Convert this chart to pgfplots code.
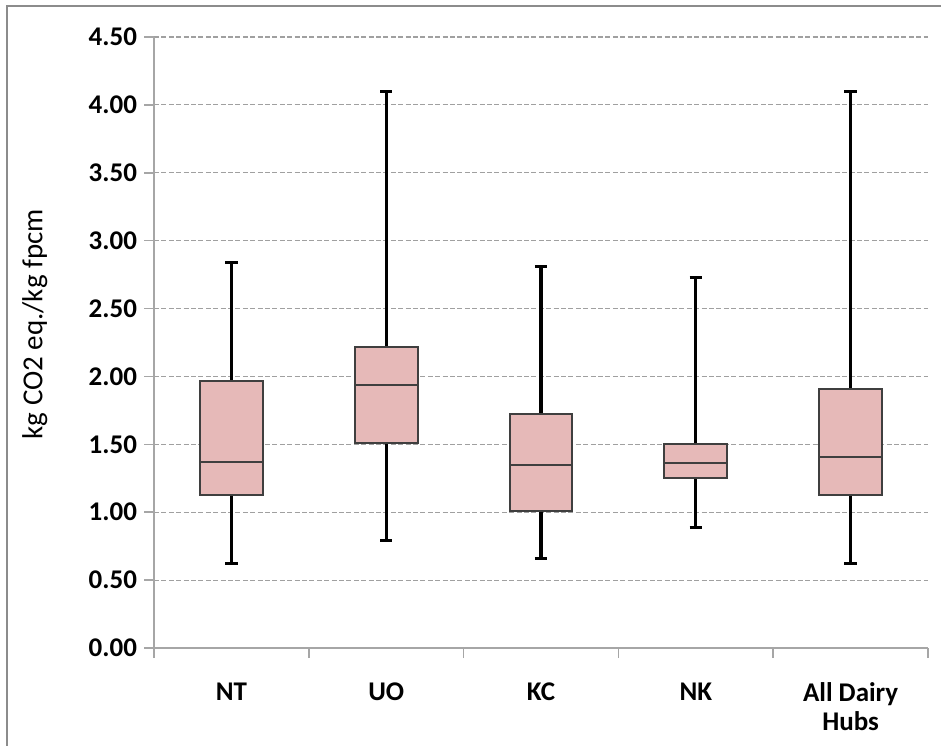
\documentclass[border=0pt]{standalone}
\usepackage{pgfplots}
\pgfplotsset{compat=1.18}
\usepgfplotslibrary{statistics}
\usepackage{fontspec}
\setmainfont{Carlito}
\definecolor{boxfill}{HTML}{E6B9B8}
\definecolor{boxedge}{HTML}{3F3F3F}
\definecolor{axisgray}{HTML}{A6A6A6}
\definecolor{gridgray}{HTML}{A0A0A0}
\definecolor{framegray}{HTML}{8C8C8C}
\begin{document}
\begin{tikzpicture}
\path[use as bounding box] (0,0) rectangle (470.5bp,-373bp);
\draw[framegray, line width=1.2bp] (3.5bp,-373bp) -- (3.5bp,-3bp) -- (470.5bp,-3bp);
\begin{axis}[
  at={(77bp,-324bp)}, anchor=south west,
  scale only axis, width=387bp, height=305.5bp,
  xmin=-0.5, xmax=4.5, ymin=0, ymax=4.5,
  axis x line*=bottom, axis y line*=left,
  axis line style={draw=axisgray, line width=0.8bp},
  tick align=outside,
  major tick length=5bp, minor tick length=5bp,
  tick style={draw=axisgray, line width=0.8bp},
  every major x tick/.style={draw=none},
  xtick={0,1,2,3,4},
  minor xtick={-0.5,0.5,1.5,2.5,3.5,4.5},
  xticklabels={NT,UO,KC,NK,{All Dairy\\Hubs}},
  xticklabel style={align=center, anchor=north, yshift=-9bp,
    font=\fontsize{13.5bp}{14.5bp}\selectfont\bfseries},
  ytick={0,0.5,...,4.5},
  yticklabel style={/pgf/number format/.cd, fixed, fixed zerofill, precision=2,
    /tikz/.cd, font=\fontsize{13.5bp}{16bp}\selectfont\bfseries},
  /pgf/number format/assume math mode=true,
  ymajorgrids,
  grid style={draw=gridgray, dash pattern=on 2.5bp off 1.2bp, line width=0.6bp},
  every axis y label/.style={at={(axis description cs:-0.154,0.53)}, rotate=90, anchor=center,
    font=\fontsize{14.5bp}{17bp}\selectfont},
  ylabel={kg CO2 eq./kg fpcm},
  boxplot/draw direction=y,
  boxplot/box extend=0.405,
  boxplot/whisker extend=0.08,
  boxplot/every box/.style={draw=boxedge, line width=1bp, fill=boxfill},
  boxplot/every median/.style={draw=boxedge, line width=1bp},
  boxplot/every whisker/.style={draw=black, line width=1.6bp},
  clip=false,
]
\addplot[boxplot prepared={draw position=0, lower whisker=0.62, lower quartile=1.13,
  median=1.37, upper quartile=1.97, upper whisker=2.84}] coordinates {};
\addplot[boxplot prepared={draw position=1, lower whisker=0.79, lower quartile=1.51,
  median=1.94, upper quartile=2.22, upper whisker=4.10}] coordinates {};
\addplot[boxplot prepared={draw position=2, lower whisker=0.66, lower quartile=1.01,
  median=1.35, upper quartile=1.72, upper whisker=2.81}] coordinates {};
\addplot[boxplot prepared={draw position=3, lower whisker=0.89, lower quartile=1.25,
  median=1.36, upper quartile=1.50, upper whisker=2.73}] coordinates {};
\addplot[boxplot prepared={draw position=4, lower whisker=0.62, lower quartile=1.13,
  median=1.41, upper quartile=1.91, upper whisker=4.10}] coordinates {};
\end{axis}
\end{tikzpicture}
\end{document}
